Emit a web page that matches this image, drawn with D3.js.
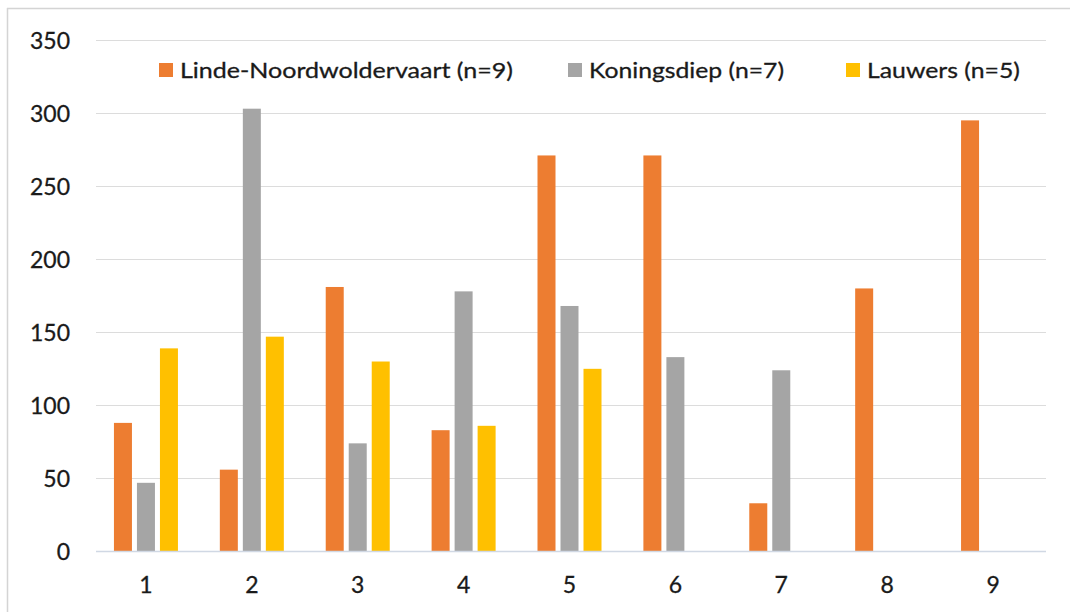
<!DOCTYPE html>
<html>
<head>
<meta charset="utf-8">
<script src="https://cdn.jsdelivr.net/npm/d3@7"></script>
<style>
  html, body { margin: 0; padding: 0; background: #fff; }
  svg { display: block; }
  text { font-family: Lato, "Open Sans", sans-serif; fill: #1a1a1a; }
</style>
</head>
<body>
<svg id="chart" width="1070" height="612"></svg>
<script>
// Sample numbers on the x axis
const categories = ["1", "2", "3", "4", "5", "6", "7", "8", "9"];

// One array per river; null where a river has no sample
const seriesNames = ["Linde-Noordwoldervaart (n=9)", "Koningsdiep (n=7)", "Lauwers (n=5)"];
const lindeValues = [88, 56, 181, 83, 271, 271, 33, 180, 295];
const koningsdiepValues = [47, 303, 74, 178, 168, 133, 124, null, null];
const lauwersValues = [139, 147, 130, 86, 125, null, null, null, null];
const yTicks = [0, 50, 100, 150, 200, 250, 300, 350];

const colors = ["#ED7D31", "#A5A5A5", "#FFC000"];
const seriesValues = [lindeValues, koningsdiepValues, lauwersValues];

const svg = d3.select("#chart");
const margin = { left: 93, right: 1046, top: 40, bottom: 551.5 };

// Outer frame (top and left edges)
svg.append("line").attr("x1", 7).attr("x2", 1070).attr("y1", 8.5).attr("y2", 8.5)
  .attr("stroke", "#d4d4d4").attr("stroke-width", 1.5);
svg.append("line").attr("x1", 7.5).attr("x2", 7.5).attr("y1", 8).attr("y2", 612)
  .attr("stroke", "#d4d4d4").attr("stroke-width", 1.5);

const x = d3.scaleBand().domain(categories).range([margin.left, margin.right]).paddingInner(0).paddingOuter(0);
const y = d3.scaleLinear().domain([0, 350]).range([margin.bottom, margin.top]);

// Gridlines
svg.append("g").selectAll("line").data(yTicks.filter(d => d > 0)).join("line")
  .attr("x1", 96).attr("x2", margin.right)
  .attr("y1", d => Math.round(y(d)) + 0.5).attr("y2", d => Math.round(y(d)) + 0.5)
  .attr("stroke", "#dcdcdc").attr("stroke-width", 1.2);

// Y axis labels
const yAxis = d3.axisLeft(y).tickValues(yTicks).tickSize(0).tickPadding(0);
const yg = svg.append("g").attr("transform", "translate(70,0)").call(yAxis);
yg.select(".domain").remove();
yg.selectAll("text").style("font-size", "23px").attr("dy", "0.35em")
  .style("fill", "#1a1a1a").style("stroke", "#1a1a1a").style("stroke-width", 0.3);

// Bars
const barW = 18, barStep = 23;
seriesValues.forEach((vals, si) => {
  svg.append("g").selectAll("rect")
    .data(categories.map((c, i) => ({ c, v: vals[i] })).filter(d => d.v != null))
    .join("rect")
    .attr("x", d => x(d.c) + x.bandwidth() / 2 - barW / 2 + (si - 1) * barStep)
    .attr("y", d => y(d.v))
    .attr("width", barW)
    .attr("height", d => y(0) - y(d.v))
    .attr("fill", colors[si]);
});

// Category axis baseline and labels
svg.append("line").attr("x1", 96).attr("x2", margin.right)
  .attr("y1", margin.bottom).attr("y2", margin.bottom)
  .attr("stroke", "#d0d8e4").attr("stroke-width", 1.5);
const xAxis = d3.axisBottom(x).tickSize(0).tickPadding(0);
const xg = svg.append("g").attr("transform", `translate(0,${margin.bottom + 33})`).call(xAxis);
xg.select(".domain").remove();
xg.selectAll("text").style("font-size", "23px").attr("dy", "0.35em")
  .style("fill", "#1a1a1a").style("stroke", "#1a1a1a").style("stroke-width", 0.3);

// Legend
const legendX = [159, 568, 846];
const legendW = [333, 195, 153];
const legend = svg.append("g");
seriesNames.forEach((name, i) => {
  legend.append("rect").attr("x", legendX[i]).attr("y", 63).attr("width", 14).attr("height", 14)
    .attr("fill", colors[i]);
  legend.append("text").attr("x", legendX[i] + 21).attr("y", 78)
    .attr("textLength", legendW[i]).attr("lengthAdjust", "spacingAndGlyphs")
    .style("font-size", "21px").style("stroke", "#1a1a1a").style("stroke-width", 0.3)
    .text(name);
});
</script>
</body>
</html>
